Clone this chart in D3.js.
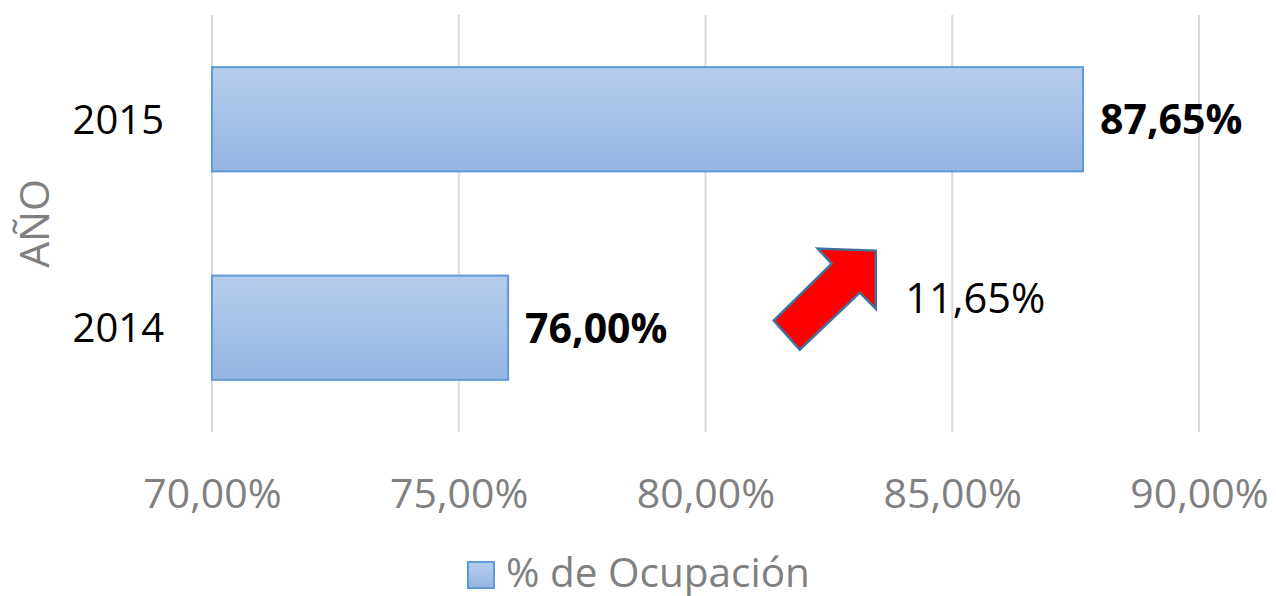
<!DOCTYPE html>
<html>
<head>
<meta charset="utf-8">
<script src="https://cdn.jsdelivr.net/npm/d3@7"></script>
<style>
  html, body { margin: 0; padding: 0; background: #fff; }
  text { font-family: "Open Sans", "DejaVu Sans", sans-serif; }
</style>
</head>
<body>
<svg id="chart" width="1276" height="596"></svg>
<script>
// data
var years = ["2015", "2014"];
var ocupacion = [0.8765, 0.7600];
var xTicks = [0.70, 0.75, 0.80, 0.85, 0.90];
var seriesName = "% de Ocupación";
var axisTitle = "AÑO";

var svg = d3.select("#chart");
var margin = { top: 15, left: 212, right: 77, bottom: 164 };
var width = 1276 - margin.left - margin.right;
var height = 596 - margin.top - margin.bottom;

var fmt = function (v, d) { return (v * 100).toFixed(d).replace(".", ",") + "%"; };

var defs = svg.append("defs");
var grad = defs.append("linearGradient")
    .attr("id", "barGrad").attr("x1", 0).attr("y1", 0).attr("x2", 0).attr("y2", 1);
grad.append("stop").attr("offset", "0%").attr("stop-color", "#b5cdec");
grad.append("stop").attr("offset", "100%").attr("stop-color", "#94b6e2");

var g = svg.append("g").attr("transform", "translate(" + margin.left + "," + margin.top + ")");

var x = d3.scaleLinear().domain([0.70, 0.90]).range([0, width]);
var y = d3.scaleBand().domain(years).range([0, height]).paddingInner(0.5).paddingOuter(0.25);

// gridlines
g.selectAll(".grid").data(xTicks).enter().append("line")
    .attr("class", "grid")
    .attr("x1", function (d) { return x(d); })
    .attr("x2", function (d) { return x(d); })
    .attr("y1", 0).attr("y2", height)
    .style("stroke", "#d9d9d9").style("stroke-width", 2);

// x axis labels
var xAxis = d3.axisBottom(x).tickValues(xTicks).tickSize(0).tickPadding(0)
    .tickFormat(function (d) { return fmt(d, 2); });
var xa = g.append("g").attr("transform", "translate(0," + height + ")").call(xAxis);
xa.select(".domain").remove();
xa.selectAll("text")
    .attr("dy", null).attr("y", 76)
    .style("font-family", "'Open Sans', sans-serif")
    .style("font-size", "41px").style("fill", "#808080");

// y axis labels
var yAxis = d3.axisLeft(y).tickSize(0).tickPadding(48);
var ya = g.append("g").call(yAxis);
ya.select(".domain").remove();
ya.selectAll("text")
    .attr("dy", "0.36em")
    .style("font-family", "'Open Sans', sans-serif")
    .style("font-size", "40px").style("fill", "#000");

// axis title
svg.append("text")
    .attr("transform", "translate(49," + (margin.top + height / 2) + ") rotate(-90)")
    .attr("text-anchor", "middle")
    .style("font-size", "41px").style("fill", "#808080")
    .text(axisTitle);

// bars
var data = years.map(function (yr, i) { return { year: yr, value: ocupacion[i] }; });
g.selectAll(".bar").data(data).enter().append("rect")
    .attr("class", "bar")
    .attr("x", x(0.70))
    .attr("y", function (d) { return y(d.year); })
    .attr("width", function (d) { return x(d.value) - x(0.70); })
    .attr("height", y.bandwidth())
    .style("fill", "url(#barGrad)")
    .style("stroke", "#5f9bd6").style("stroke-width", 2);

// value labels
g.selectAll(".lbl").data(data).enter().append("text")
    .attr("class", "lbl")
    .attr("x", function (d) { return x(d.value) + 17; })
    .attr("y", function (d) { return y(d.year) + y.bandwidth() / 2; })
    .attr("dy", "0.36em")
    .style("font-size", "41px").style("font-weight", "bold").style("fill", "#000")
    .text(function (d) { return fmt(d.value, 2); });

// change annotation: arrow + difference
var diff = ocupacion[0] - ocupacion[1];
var tipX = x(0.8345), tipY = y(years[1]) - 25;
var arrow = [[0, 0], [-58, -2], [-44, 13], [-102, 70], [-76, 99], [-16, 42], [0, 58]];
g.append("path")
    .attr("d", d3.line()(arrow) + "Z")
    .attr("transform", "translate(" + tipX + "," + tipY + ")")
    .style("fill", "#ff0000").style("stroke", "#41719c").style("stroke-width", 2.5)
    .style("stroke-linejoin", "miter");
g.append("text")
    .attr("x", x(0.8405))
    .attr("y", tipY + 62)
    .style("font-size", "41.5px").style("fill", "#000")
    .text(fmt(diff, 2));

// legend
var leg = svg.append("g").attr("transform", "translate(468,562)");
leg.append("rect").attr("width", 26).attr("height", 26)
    .style("fill", "url(#barGrad)").style("stroke", "#5f9bd6").style("stroke-width", 2);
leg.append("text").attr("x", 38).attr("y", 25)
    .style("font-size", "40.5px").style("fill", "#808080")
    .text(seriesName);
</script>
</body>
</html>
